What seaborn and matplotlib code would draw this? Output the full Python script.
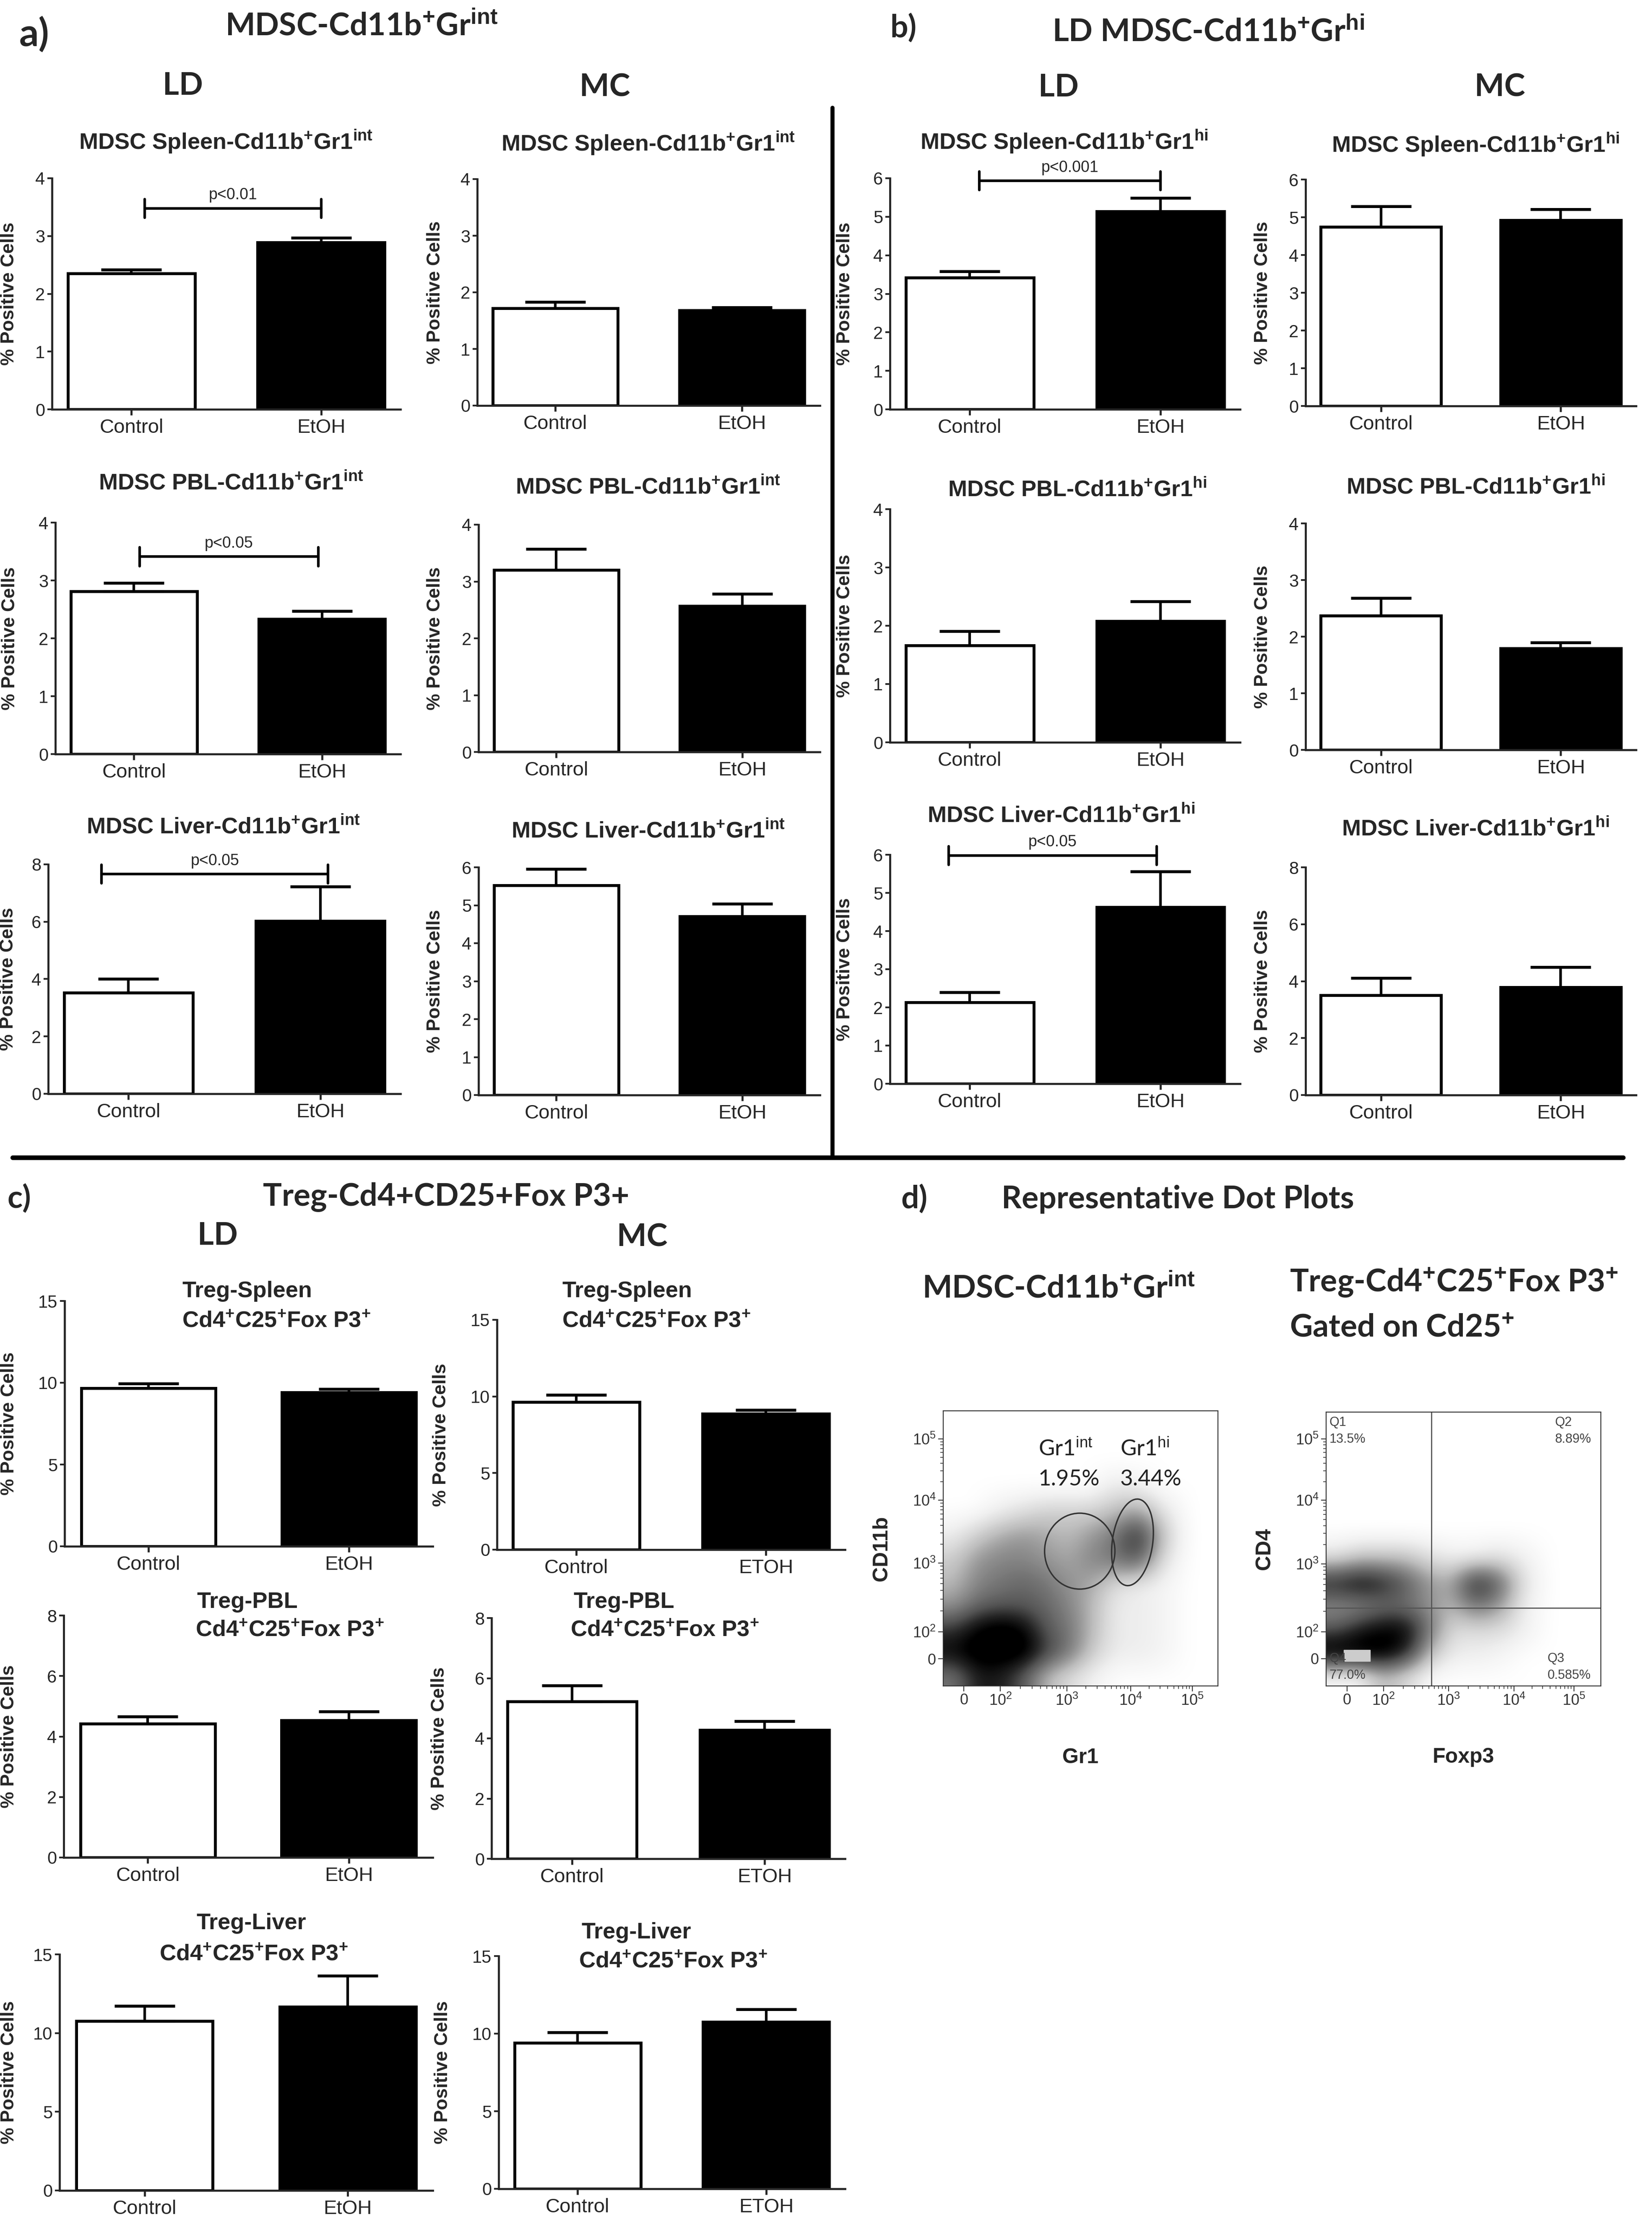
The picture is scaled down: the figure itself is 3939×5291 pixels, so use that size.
import numpy as np
import pandas as pd
import matplotlib
matplotlib.use('Agg')
import matplotlib.pyplot as plt
from matplotlib.colors import PowerNorm
from matplotlib.patches import Ellipse, Rectangle
from matplotlib.lines import Line2D
import seaborn as sns

# values: bar mean and upper SEM
groups = ['Control', 'EtOH']
groups_etoh_caps = ['Control', 'ETOH']

a_ld_spleen, a_ld_spleen_err = [2.35, 2.89], [0.07, 0.08]
a_mc_spleen, a_mc_spleen_err = [1.72, 1.68], [0.11, 0.05]
a_ld_pbl, a_ld_pbl_err = [2.81, 2.33], [0.15, 0.14]
a_mc_pbl, a_mc_pbl_err = [3.20, 2.57], [0.37, 0.21]
a_ld_liver, a_ld_liver_err = [3.53, 6.02], [0.47, 1.21]
a_mc_liver, a_mc_liver_err = [5.53, 4.71], [0.43, 0.33]

b_ld_spleen, b_ld_spleen_err = [3.42, 5.14], [0.16, 0.35]
b_mc_spleen, b_mc_spleen_err = [4.75, 4.92], [0.54, 0.29]
b_ld_pbl, b_ld_pbl_err = [1.66, 2.08], [0.25, 0.34]
b_mc_pbl, b_mc_pbl_err = [2.37, 1.79], [0.31, 0.11]
b_ld_liver, b_ld_liver_err = [2.13, 4.63], [0.27, 0.93]
b_mc_liver, b_mc_liver_err = [3.51, 3.79], [0.60, 0.70]

c_ld_spleen, c_ld_spleen_err = [9.66, 9.40], [0.28, 0.22]
c_mc_spleen, c_mc_spleen_err = [9.64, 8.88], [0.45, 0.23]
c_ld_pbl, c_ld_pbl_err = [4.42, 4.53], [0.24, 0.29]
c_mc_pbl, c_mc_pbl_err = [5.22, 4.28], [0.53, 0.29]
c_ld_liver, c_ld_liver_err = [10.76, 11.68], [0.96, 1.95]
c_mc_liver, c_mc_liver_err = [9.40, 10.77], [0.67, 0.79]

# significance brackets: label, x ends (category units), height
sig_a_spleen = {'label': 'p<0.01', 'x': [0.07, 1.0], 'y': 3.48}
sig_a_pbl = {'label': 'p<0.05', 'x': [0.03, 0.98], 'y': 3.41}
sig_a_liver = {'label': 'p<0.05', 'x': [-0.14, 1.04], 'y': 7.66}
sig_b_spleen = {'label': 'p<0.001', 'x': [0.05, 1.0], 'y': 5.93}
sig_b_liver = {'label': 'p<0.05', 'x': [-0.11, 0.98], 'y': 5.98}

# rough event density of the two dot plots (top row first, 0-9 darkness)
dens_mdsc = [
    [0, 0, 0, 0, 0, 0, 0, 0, 0, 0, 0, 0],
    [0, 0, 0, 0, 0, 0, 0, 0, 0, 0, 0, 0],
    [0, 0, 0, 0, 0, 0, 0, 0, 0, 0, 0, 0],
    [0, 0, 0, 0, 0, 0, 0, 0.8, 0.5, 0, 0, 0],
    [0, 0, 0.5, 1, 1.5, 1.5, 1.5, 2, 3, 1, 0, 0],
    [0.5, 1.5, 2.5, 3, 2.5, 2, 3, 4, 7, 2, 0, 0],
    [1.5, 3, 3.5, 3.5, 3, 2.5, 3.5, 4, 5, 1, 0, 0],
    [2, 3.5, 4, 4.5, 4, 3, 2.5, 1, 0.5, 0.3, 0, 0],
    [3, 4.5, 5, 5, 4.5, 3.5, 2, 0.5, 0.5, 0.3, 0, 0],
    [6, 8, 9, 8, 5, 4, 2, 0.5, 0.5, 0.3, 0, 0],
    [8, 9, 9, 9, 6, 4, 1.5, 0.5, 0.5, 0.3, 0, 0],
    [4, 7, 7, 5, 2, 1, 0.3, 0, 0, 0, 0, 0],
]
dens_treg = [
    [0, 0, 0, 0, 0, 0, 0, 0, 0, 0, 0, 0],
    [0, 0, 0, 0, 0, 0, 0, 0, 0, 0, 0, 0],
    [0, 0, 0, 0, 0, 0, 0, 0, 0, 0, 0, 0],
    [0, 0, 0, 0, 0, 0, 0, 0, 0, 0, 0, 0],
    [0, 0, 0, 0, 0, 0, 0, 0, 0, 0, 0, 0],
    [0, 0, 0, 0, 0, 0, 0, 0, 0, 0, 0, 0],
    [1, 2, 2, 2, 1, 0.5, 0.5, 1, 0.5, 0, 0, 0],
    [7, 8, 7, 5, 3, 2.5, 7, 5, 1, 0, 0, 0],
    [3, 3, 4, 4, 3, 2, 4, 3, 0.5, 0, 0, 0],
    [5, 7, 8, 8, 4, 1, 1, 1, 0.5, 0, 0, 0],
    [9, 9, 9, 7, 2, 0.5, 0.5, 0.3, 0, 0, 0, 0],
    [0, 0, 2, 1, 0, 0, 0, 0, 0, 0, 0, 0],
]
flow_tick_labels = ['0', '$10^2$', '$10^3$', '$10^4$', '$10^5$']
mdsc_xticks = [0.075, 0.208, 0.45, 0.682, 0.907]
mdsc_yticks = [0.099, 0.197, 0.447, 0.675, 0.898]
treg_xticks = [0.076, 0.209, 0.446, 0.684, 0.902]
treg_yticks = [0.10, 0.198, 0.446, 0.678, 0.902]

sns.set_style('ticks')
plt.rcParams['font.family'] = ['Liberation Sans', 'DejaVu Sans']
plt.rcParams['mathtext.fontset'] = 'custom'
plt.rcParams['mathtext.rm'] = 'Liberation Sans'
plt.rcParams['mathtext.bf'] = 'Liberation Sans:bold'
plt.rcParams['mathtext.it'] = 'Liberation Sans:italic'

W, H = 3939, 5291
fig = plt.figure(figsize=(W / 100, H / 100), dpi=100)
fig.patch.set_facecolor('white')
HEAD = ['Lato', 'DejaVu Sans']


def frac_box(l, t, r, b):
    return [l / W, 1 - b / H, (r - l) / W, (b - t) / H]


def put(x, y, s, **kw):
    kw.setdefault('ha', 'center')
    kw.setdefault('va', 'center')
    fig.text(x / W, 1 - y / H, s, **kw)


def bar_panel(box, vals, errs, ymax, step, ylab_x, cats=groups, sig=None):
    ax = fig.add_axes(frac_box(*box))
    df = pd.DataFrame({'group': cats, 'value': vals})
    sns.barplot(data=df, x='group', y='value', hue='group', palette=['white', 'black'],
                saturation=1, width=0.67, edgecolor='black', linewidth=5,
                errorbar=None, legend=False, ax=ax)
    xpos = ax.get_xticks()
    ax.errorbar(xpos, vals, yerr=[[0, 0], errs], fmt='none', ecolor='black',
                elinewidth=4.5, capsize=52, capthick=5, zorder=5)
    ax.set_ylim(0, ymax)
    ax.set_yticks(range(0, ymax + 1, step))
    ax.set_xlabel('')
    ax.set_ylabel('% Positive Cells', fontsize=32, fontweight='bold')
    ax.yaxis.set_label_coords((ylab_x - box[0]) / (box[2] - box[0]), 0.5)
    sns.despine(ax=ax)
    for s in ('left', 'bottom'):
        ax.spines[s].set_linewidth(3.5)
    ax.tick_params(axis='x', labelsize=34, length=10, width=3.5, pad=6)
    ax.tick_params(axis='y', labelsize=30, length=8, width=3, pad=4)
    if sig is not None:
        x0, x1 = sig['x']
        y = sig['y']
        h = 0.04 * ymax
        ax.plot([x0, x1], [y, y], color='black', lw=4.5, clip_on=False)
        for xe in (x0, x1):
            ax.plot([xe, xe], [y - h, y + h], color='black', lw=4.5, clip_on=False)
        ax.text((x0 + x1) / 2, y + 0.025 * ymax, sig['label'], ha='center',
                va='bottom', fontsize=27)
    return ax


# ---- a) and b): MDSC bar charts ----
t_int = 'MDSC {}-Cd11b$^{{\\mathbf{{+}}}}$Gr1$^{{\\mathbf{{int}}}}$'
t_hi = 'MDSC {}-Cd11b$^{{\\mathbf{{+}}}}$Gr1$^{{\\mathbf{{hi}}}}$'
mdsc_panels = [
    ((124, 425, 955, 976), (538, 338), 42, t_int.format('Spleen'), a_ld_spleen, a_ld_spleen_err, 4, sig_a_spleen),
    ((1138, 427, 1955, 967), (1545, 342), 1058, t_int.format('Spleen'), a_mc_spleen, a_mc_spleen_err, 4, None),
    ((132, 1246, 955, 1798), (551, 1153), 44, t_int.format('PBL'), a_ld_pbl, a_ld_pbl_err, 4, sig_a_pbl),
    ((1141, 1251, 1955, 1793), (1545, 1163), 1058, t_int.format('PBL'), a_mc_pbl, a_mc_pbl_err, 4, None),
    ((115, 2061, 955, 2608), (532, 1973), 40, t_int.format('Liver'), a_ld_liver, a_ld_liver_err, 8, sig_a_liver),
    ((1141, 2068, 1955, 2611), (1545, 1983), 1058, t_int.format('Liver'), a_mc_liver, a_mc_liver_err, 6, None),
    ((2122, 425, 2957, 976), (2537, 338), 2035, t_hi.format('Spleen'), b_ld_spleen, b_ld_spleen_err, 6, sig_b_spleen),
    ((3113, 428, 3901, 968), (3518, 345), 3031, t_hi.format('Spleen'), b_mc_spleen, b_mc_spleen_err, 6, None),
    ((2122, 1214, 2957, 1770), (2568, 1169), 2035, t_hi.format('PBL'), b_ld_pbl, b_ld_pbl_err, 4, None),
    ((3113, 1248, 3901, 1788), (3518, 1163), 3031, t_hi.format('PBL'), b_mc_pbl, b_mc_pbl_err, 4, None),
    ((2122, 2038, 2957, 2584), (2530, 1946), 2035, t_hi.format('Liver'), b_ld_liver, b_ld_liver_err, 6, sig_b_liver),
    ((3113, 2068, 3901, 2611), (3518, 1978), 3031, t_hi.format('Liver'), b_mc_liver, b_mc_liver_err, 8, None),
]
for box, txy, ylab_x, title, vals, errs, ymax, sig in mdsc_panels:
    step = 2 if ymax == 8 else 1
    bar_panel(box, vals, errs, ymax, step, ylab_x, sig=sig)
    put(*txy, title, fontsize=39, fontweight='bold')

# ---- c) Treg bar charts ----
treg_sub = 'Cd4$^{\\mathbf{+}}$C25$^{\\mathbf{+}}$Fox P3$^{\\mathbf{+}}$'
treg_panels = [
    ((154, 3102, 1032, 3687), (434, 3079, 434, 3150), 'left', 'Treg-Spleen', groups, c_ld_spleen, c_ld_spleen_err, 15, 5, 42),
    ((1185, 3147, 2015, 3695), (1340, 3079, 1340, 3150), 'left', 'Treg-Spleen', groups_etoh_caps, c_mc_spleen, c_mc_spleen_err, 15, 5, 1072),
    ((152, 3852, 1032, 4429), (469, 3820, 466, 3887), 'left', 'Treg-PBL', groups, c_ld_pbl, c_ld_pbl_err, 8, 2, 42),
    ((1172, 3858, 2015, 4432), (1367, 3820, 1360, 3887), 'left', 'Treg-PBL', groups_etoh_caps, c_mc_pbl, c_mc_pbl_err, 8, 2, 1068),
    ((142, 4660, 1032, 5223), (599, 4586, 605, 4660), 'center', 'Treg-Liver', groups, c_ld_liver, c_ld_liver_err, 15, 5, 42),
    ((1189, 4664, 2015, 5219), (1386, 4608, 1380, 4677), 'left', 'Treg-Liver', groups_etoh_caps, c_mc_liver, c_mc_liver_err, 15, 5, 1076),
]
for box, (x1, y1, x2, y2), align, name, cats, vals, errs, ymax, step, ylab_x in treg_panels:
    bar_panel(box, vals, errs, ymax, step, ylab_x, cats=cats)
    put(x1, y1, name, fontsize=39, fontweight='bold', ha=align)
    put(x2, y2, treg_sub, fontsize=39, fontweight='bold', ha=align)


# ---- d) dot plots ----
def dot_plot(box, dens, xt, yt, xlabel, ylabel):
    ax = fig.add_axes(frac_box(*box))
    ax.imshow(np.array(dens), extent=(0, 1, 0, 1), origin='upper', cmap='Greys',
              norm=PowerNorm(gamma=0.7, vmin=0, vmax=8), interpolation='bicubic',
              aspect='auto')
    ax.set_xlim(0, 1)
    ax.set_ylim(0, 1)
    ax.set_xticks(xt)
    ax.set_xticklabels(flow_tick_labels)
    ax.set_yticks(yt)
    ax.set_yticklabels(flow_tick_labels)
    minors_x, minors_y = [], []
    for ticks, minors in ((xt, minors_x), (yt, minors_y)):
        for p0, p1 in zip(ticks[1:-1], ticks[2:]):
            minors += [p0 + np.log10(k) * (p1 - p0) for k in range(2, 10)]
    ax.set_xticks(minors_x, minor=True)
    ax.set_yticks(minors_y, minor=True)
    ax.tick_params(which='major', labelsize=26, length=9, width=1.5, colors='#333')
    ax.tick_params(which='minor', length=5, width=1.2, colors='#333')
    for s in ax.spines.values():
        s.set_visible(True)
        s.set_linewidth(1.6)
        s.set_color('#333')
    ax.set_xlabel(xlabel, fontsize=36, fontweight='bold')
    ax.set_ylabel(ylabel, fontsize=36, fontweight='bold')
    ax.xaxis.set_label_coords(0.5, -0.225)
    ax.yaxis.set_label_coords(-0.19, 0.5)
    return ax


ax = dot_plot((2249, 3364, 2904, 4020), dens_mdsc, mdsc_xticks, mdsc_yticks, 'Gr1', 'CD11b')
ax.add_patch(Ellipse((0.497, 0.49), 0.256, 0.276, fill=False, ec='#333', lw=2.5))
ax.add_patch(Ellipse((0.689, 0.522), 0.147, 0.317, angle=-8, fill=False, ec='#333', lw=2.5))
for x, lab, pct in ((0.346, 'Gr1$^{\\mathrm{int}}$', '1.95%'), (0.644, 'Gr1$^{\\mathrm{hi}}$', '3.44%')):
    ax.text(x, 0.862, lab, fontsize=38, family=HEAD, color='#222', va='center')
    ax.text(x, 0.75, pct, fontsize=38, family=HEAD, color='#222', va='center')

ax = dot_plot((3162, 3367, 3817, 4020), dens_treg, treg_xticks, treg_yticks, 'Foxp3', 'CD4')
ax.axvline(0.383, color='#555', lw=2)
ax.axhline(0.285, color='#555', lw=2)
ax.add_patch(Rectangle((0.064, 0.09), 0.096, 0.041, color='#cccccc', zorder=3))
for x, y, s in ((0.012, 0.984, 'Q1'), (0.012, 0.923, '13.5%'), (0.833, 0.984, 'Q2'),
                (0.833, 0.923, '8.89%'), (0.012, 0.122, 'Q4'), (0.012, 0.061, '77.0%'),
                (0.806, 0.122, 'Q3'), (0.806, 0.061, '0.585%')):
    ax.text(x, y, s, fontsize=22, color='#444', va='top', zorder=4)

# ---- headings and dividers ----
hk = dict(fontsize=54, fontweight='bold', family=HEAD)
put(82, 82, 'a)', fontsize=66, fontweight='bold', family=HEAD)
put(862, 62, 'MDSC-Cd11b$^{\\mathbf{+}}$Gr$^{\\mathbf{int}}$', **hk)
put(436, 204, 'LD', **hk)
put(1442, 208, 'MC', **hk)
put(2154, 67, 'b)', **hk)
put(2881, 76, 'LD MDSC-Cd11b$^{\\mathbf{+}}$Gr$^{\\mathbf{hi}}$', **hk)
put(2524, 208, 'LD', **hk)
put(3576, 208, 'MC', **hk)
put(46, 2858, 'c)', **hk)
put(1064, 2854, 'Treg-Cd4+CD25+Fox P3+', **hk)
put(519, 2946, 'LD', **hk)
put(1531, 2950, 'MC', **hk)
put(2180, 2859, 'd)', **hk)
put(2808, 2859, 'Representative Dot Plots', **hk)
put(2199, 3072, 'MDSC-Cd11b$^{\\mathbf{+}}$Gr$^{\\mathbf{int}}$', ha='left', **hk)
put(3075, 3058, 'Treg-Cd4$^{\\mathbf{+}}$C25$^{\\mathbf{+}}$Fox P3$^{\\mathbf{+}}$', ha='left', **hk)
put(3075, 3166, 'Gated on Cd25$^{\\mathbf{+}}$', ha='left', **hk)

fig.add_artist(Line2D([1985 / W, 1985 / W], [1 - 257 / H, 1 - 2760 / H], color='black', lw=7))
fig.add_artist(Line2D([30 / W, 3870 / W], [1 - 2760 / H, 1 - 2760 / H], color='black', lw=8))

fig.savefig('out.png', dpi=100, facecolor='white')
